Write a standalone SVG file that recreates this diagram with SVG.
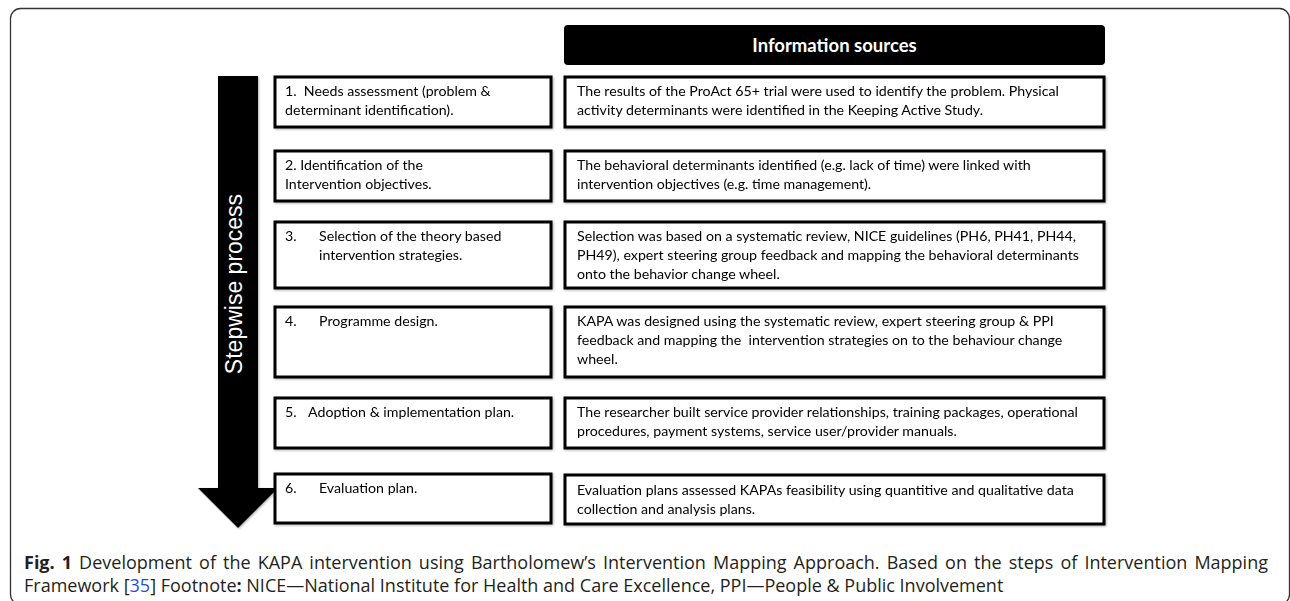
<svg xmlns="http://www.w3.org/2000/svg" width="1290" height="601" viewBox="0 0 1290 601">
<defs>
<style>
.box{fill:#fff;stroke:#000;stroke-width:3}
.t{font-family:Lato,"Open Sans","Liberation Sans",sans-serif;font-size:14.2px;fill:#000}
.cap{font-family:"Open Sans","Liberation Sans",sans-serif;font-size:18px;fill:#231f20}
</style>
<filter id="sh" x="-10%" y="-10%" width="120%" height="120%">
<feDropShadow dx="1" dy="1" stdDeviation="1" flood-color="#000" flood-opacity="0.3"/>
</filter>
</defs>
<rect x="10.5" y="8.5" width="1279" height="596" rx="10" fill="#fff" stroke="#333" stroke-width="1.3"/>

<g id="header">
<rect x="564" y="25" width="541" height="40" rx="4" fill="#000"/>
<text x="834.5" y="51.5" text-anchor="middle" font-family="Lato,'Open Sans','Liberation Sans',sans-serif" font-size="18.5" font-weight="bold" fill="#fff">Information sources</text>
</g>

<g id="connectors">
<g id="arrow" filter="url(#sh)">
<path d="M218,76 H258 V488 H278 L238,528 L198,488 H218 Z" fill="#000"/>
</g>
<text transform="translate(241.5,284) rotate(-90)" text-anchor="middle" font-family="'Liberation Sans',Arial,sans-serif" font-size="23" fill="#fff">Stepwise process</text>
</g>

<g id="step1" filter="url(#sh)">
<rect class="box" x="275" y="77" width="276" height="50"/>
<text class="t" x="285" y="96" xml:space="preserve">1.  Needs assessment (problem &amp;</text>
<text class="t" x="285" y="115">determinant identification).</text>
</g>
<g id="info1" filter="url(#sh)">
<rect class="box" x="565" y="77" width="539" height="50"/>
<text class="t" x="577" y="96">The results of the ProAct 65+ trial were used to identify the problem. Physical</text>
<text class="t" x="577" y="115">activity determinants were identified in the Keeping Active Study.</text>
</g>

<g id="step2" filter="url(#sh)">
<rect class="box" x="275" y="151" width="276" height="50"/>
<text class="t" x="285" y="170">2. Identification of the</text>
<text class="t" x="285" y="189">Intervention objectives.</text>
</g>
<g id="info2" filter="url(#sh)">
<rect class="box" x="565" y="151" width="539" height="50"/>
<text class="t" x="577" y="170">The behavioral determinants identified (e.g. lack of time) were linked with</text>
<text class="t" x="577" y="189">intervention objectives (e.g. time management).</text>
</g>

<g id="step3" filter="url(#sh)">
<rect class="box" x="275" y="222" width="276" height="66"/>
<text class="t" x="285" y="241">3.</text>
<text class="t" x="319" y="241">Selection of the theory based</text>
<text class="t" x="319" y="260">intervention strategies.</text>
</g>
<g id="info3" filter="url(#sh)">
<rect class="box" x="565" y="222" width="539" height="66"/>
<text class="t" x="577" y="241">Selection was based on a systematic review, NICE guidelines (PH6, PH41, PH44,</text>
<text class="t" x="577" y="260">PH49), expert steering group feedback and mapping the behavioral determinants</text>
<text class="t" x="577" y="279">onto the behavior change wheel.</text>
</g>

<g id="step4" filter="url(#sh)">
<rect class="box" x="275" y="307" width="276" height="70"/>
<text class="t" x="285" y="326">4.</text>
<text class="t" x="319" y="326">Programme design.</text>
</g>
<g id="info4" filter="url(#sh)">
<rect class="box" x="565" y="307" width="539" height="70"/>
<text class="t" x="577" y="326">KAPA was designed using the systematic review, expert steering group &amp; PPI</text>
<text class="t" x="577" y="345" xml:space="preserve">feedback and mapping the  intervention strategies on to the behaviour change</text>
<text class="t" x="577" y="364">wheel.</text>
</g>

<g id="step5" filter="url(#sh)">
<rect class="box" x="275" y="398" width="276" height="50"/>
<text class="t" x="285" y="417">5.</text>
<text class="t" x="308" y="417">Adoption &amp; implementation plan.</text>
</g>
<g id="info5" filter="url(#sh)">
<rect class="box" x="565" y="398" width="539" height="50"/>
<text class="t" x="577" y="417">The researcher built service provider relationships, training packages, operational</text>
<text class="t" x="577" y="436">procedures, payment systems, service user/provider manuals.</text>
</g>

<g id="step6" filter="url(#sh)">
<rect class="box" x="275" y="474" width="276" height="49"/>
<text class="t" x="285" y="493">6.</text>
<text class="t" x="319" y="493">Evaluation plan.</text>
</g>
<g id="info6" filter="url(#sh)">
<rect class="box" x="565" y="475" width="539" height="49"/>
<text class="t" x="577" y="495">Evaluation plans assessed KAPAs feasibility using quantitive and qualitative data</text>
<text class="t" x="577" y="514">collection and analysis plans.</text>
</g>

<g id="caption">
<text class="cap" x="24" y="569" word-spacing="2.4"><tspan font-weight="bold">Fig. 1</tspan> Development of the KAPA intervention using Bartholomew’s Intervention Mapping Approach. Based on the steps of Intervention Mapping</text>
<text class="cap" x="24" y="592">Framework [<tspan fill="#1f4ee6">35</tspan>] Footnote<tspan font-weight="bold">:</tspan> NICE—National Institute for Health and Care Excellence, PPI—People &amp; Public Involvement</text>
</g>
</svg>
